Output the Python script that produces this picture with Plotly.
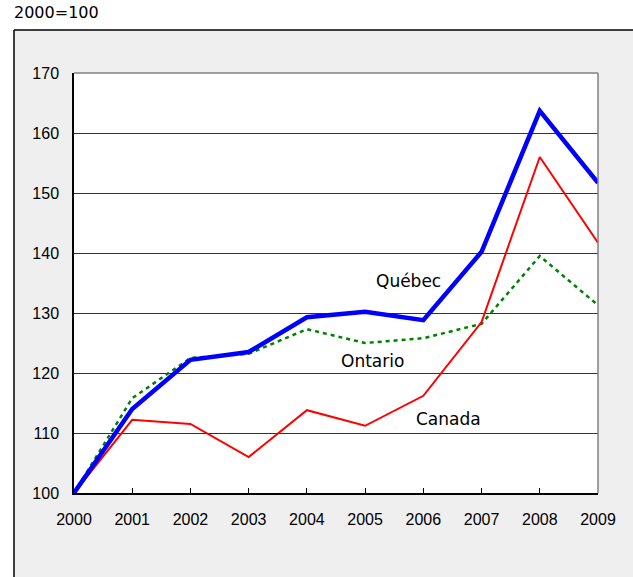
import plotly.graph_objects as go

years = [2000, 2001, 2002, 2003, 2004, 2005, 2006, 2007, 2008, 2009]
quebec = [100, 114.0, 122.2, 123.5, 129.3, 130.2, 128.8, 140.2, 163.7, 151.7]
ontario = [100, 115.8, 122.5, 123.2, 127.3, 125.0, 125.8, 128.2, 139.5, 131.3]
canada = [100, 112.2, 111.5, 106.0, 113.8, 111.2, 116.2, 128.5, 156.0, 141.7]

label_text = ["Québec", "Ontario", "Canada"]
label_x = [2005.75, 2005.13, 2006.43]
label_y = [135.3, 122.0, 112.3]

fig = go.Figure()
fig.add_trace(go.Scatter(x=years, y=ontario, mode="lines",
                         line=dict(color="#008000", width=2.5, dash="4px,4px")))
fig.add_trace(go.Scatter(x=years, y=canada, mode="lines",
                         line=dict(color="#ff0000", width=2)))
fig.add_trace(go.Scatter(x=years, y=quebec, mode="lines",
                         line=dict(color="#0000ff", width=4.5)))

for t, x, y in zip(label_text, label_x, label_y):
    fig.add_annotation(x=x, y=y, text=t, showarrow=False,
                       font=dict(family="DejaVu Sans", size=17, color="black"))

fig.add_annotation(xref="paper", yref="paper", x=-0.118, y=1.145, xanchor="left",
                   yanchor="middle", text="2000=100", showarrow=False,
                   font=dict(family="DejaVu Sans", size=16, color="black"))

# white strips outside the grey panel (top and left)
fig.add_shape(type="rect", xref="paper", yref="paper", layer="above",
              x0=-0.2, x1=1.2, y0=1.1024, y1=1.3,
              fillcolor="white", line=dict(width=0))
fig.add_shape(type="rect", xref="paper", yref="paper", layer="above",
              x0=-0.2, x1=-0.1145, y0=-0.4, y1=1.3,
              fillcolor="white", line=dict(width=0))
# black border of the panel
fig.add_shape(type="line", xref="paper", yref="paper", layer="above",
              x0=-0.1145, x1=1.2, y0=1.1024, y1=1.1024,
              line=dict(color="black", width=1.5))
fig.add_shape(type="line", xref="paper", yref="paper", layer="above",
              x0=-0.1145, x1=-0.1145, y0=-0.4, y1=1.1024,
              line=dict(color="black", width=1.5))
# grey top/right frame of the plot area
fig.add_shape(type="line", xref="paper", yref="paper", layer="above",
              x0=0, x1=1, y0=1, y1=1,
              line=dict(color="#808080", width=1.5))
fig.add_shape(type="line", xref="paper", yref="paper", layer="above",
              x0=1, x1=1, y0=0, y1=1,
              line=dict(color="#808080", width=1.5))

fig.update_layout(
    width=633, height=577,
    margin=dict(l=74, r=35, t=73, b=84),
    showlegend=False,
    paper_bgcolor="#efefef",
    plot_bgcolor="white",
    font=dict(family="Liberation Sans, Arial", size=16, color="black"),
)
fig.update_xaxes(
    range=[2000, 2009], tickvals=years, ticktext=[str(y) for y in years],
    ticks="inside", ticklen=5, tickcolor="black", ticklabelstandoff=11,
    showline=True, linecolor="black", linewidth=1.5,
    showgrid=False, zeroline=False,
)
fig.update_yaxes(
    range=[100, 170], dtick=10, tick0=100, ticklabelstandoff=10,
    ticks="", showline=True, linecolor="black", linewidth=1.5,
    showgrid=True, gridcolor="#333333", gridwidth=1, zeroline=False,
)

fig.write_html("out.html", config={"displayModeBar": False},
               post_script="document.body.style.margin='0';")
